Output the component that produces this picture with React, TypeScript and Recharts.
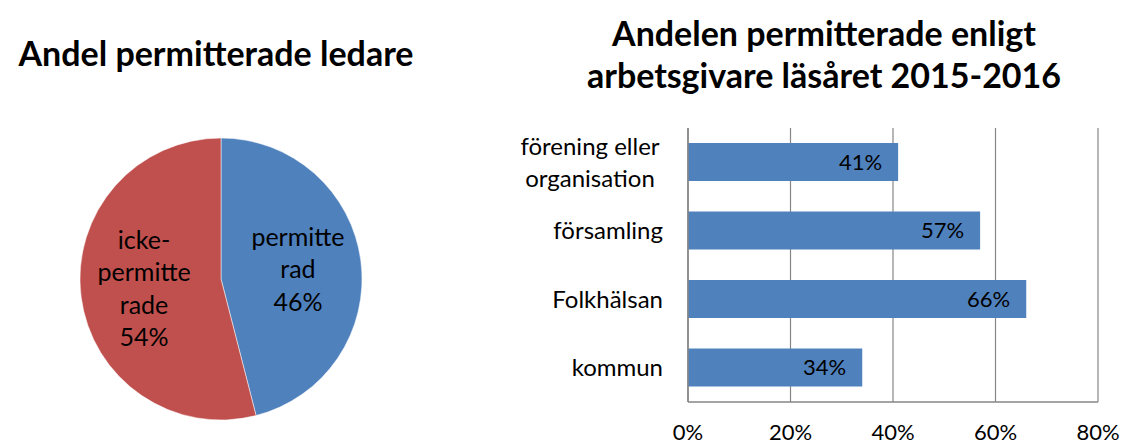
import { PieChart, Pie, Cell, BarChart, Bar, XAxis, YAxis, CartesianGrid, LabelList } from "recharts";

const PIE_NAMES = ["permitterad", "icke-permitterade"];
const PIE_VALUES = [46, 54];
const PIE_LABEL_LINES = [["permitte", "rad"], ["icke-", "permitte", "rade"]];
const PIE_COLORS = ["#4F81BD", "#C0504D"];

const EMPLOYERS = [["förening eller", "organisation"], ["församling"], ["Folkhälsan"], ["kommun"]];
const SHARES = [0.41, 0.57, 0.66, 0.34];
const X_TICKS = [0, 0.2, 0.4, 0.6, 0.8];

const FONT = "Lato, 'Open Sans', sans-serif";
const GRID = "#868686";
const RADIAN = Math.PI / 180;

const pieData = PIE_NAMES.map((name, i) => ({ name, value: PIE_VALUES[i], lines: PIE_LABEL_LINES[i] }));
const barData = EMPLOYERS.map((lines, i) => ({ name: lines.join(" "), lines, share: SHARES[i] }));

function pct(v: number) {
  return `${Math.round(v * 100)}%`;
}

function PieLabel(props: any) {
  const { cx, cy, midAngle, outerRadius, index, value } = props;
  const r = outerRadius * 0.55;
  const x = cx + r * Math.cos(-midAngle * RADIAN);
  const y = cy + r * Math.sin(-midAngle * RADIAN);
  const lines = [...pieData[index].lines, `${value}%`];
  const lh = 32.5;
  const y0 = y - ((lines.length - 1) * lh) / 2;
  return (
    <text x={x} textAnchor="middle" fontFamily={FONT} fontSize={25} fill="#000">
      {lines.map((l, i) => (
        <tspan key={i} x={x} y={y0 + i * lh} dy="0.35em">
          {l}
        </tspan>
      ))}
    </text>
  );
}

function CategoryTick(props: any) {
  const { x, y, index } = props;
  const lines = barData[index]?.lines ?? [];
  const lh = 32;
  const y0 = y - ((lines.length - 1) * lh) / 2;
  // wrapped labels are centred on each other, single ones sit right-aligned
  const multi = lines.length > 1;
  const tx = multi ? x - 73 : x;
  return (
    <text x={tx} textAnchor={multi ? "middle" : "end"} fontFamily={FONT} fontSize={24} fill="#000">
      {lines.map((l, i) => (
        <tspan key={i} x={tx} y={y0 + i * lh} dy="0.35em">
          {l}
        </tspan>
      ))}
    </text>
  );
}

const titleStyle: React.CSSProperties = {
  position: "absolute",
  fontFamily: FONT,
  fontWeight: 700,
  fontSize: 34,
  color: "#000",
  textAlign: "center",
  lineHeight: "42px",
  whiteSpace: "nowrap",
};

export default function App() {
  return (
    <div style={{ position: "absolute", left: 0, top: 0, width: 1125, height: 445, background: "#fff", overflow: "hidden" }}>
      <div style={{ ...titleStyle, left: 0, width: 432, top: 32 }}>Andel permitterade ledare</div>
      <div style={{ ...titleStyle, left: 524, width: 600, top: 12 }}>
        Andelen permitterade enligt
        <br />
        arbetsgivare läsåret 2015-2016
      </div>

      <div style={{ position: "absolute", left: 0, top: 0 }}>
        <PieChart width={460} height={445}>
          <Pie
            data={pieData}
            dataKey="value"
            nameKey="name"
            cx={216}
            cy={274}
            outerRadius={141}
            startAngle={90}
            endAngle={-270}
            stroke="#ffffff"
            strokeWidth={0.5}
            label={PieLabel}
            labelLine={false}
            isAnimationActive={false}
          >
            {pieData.map((d, i) => (
              <Cell key={d.name} fill={PIE_COLORS[i]} />
            ))}
          </Pie>
        </PieChart>
      </div>

      <div style={{ position: "absolute", left: 0, top: 0 }}>
        <BarChart
          width={1125}
          height={445}
          data={barData}
          layout="vertical"
          margin={{ top: 128, right: 27, bottom: 0, left: 0 }}
          barSize={38}
        >
          <CartesianGrid horizontal={false} vertical={true} stroke={GRID} strokeWidth={1.2} />
          <XAxis
            type="number"
            domain={[0, 0.8]}
            ticks={X_TICKS}
            tickFormatter={pct}
            height={43}
            axisLine={{ stroke: GRID, strokeWidth: 1.5 }}
            tickLine={false}
            tickSize={0}
            tickMargin={22}
            tick={{ fontFamily: FONT, fontSize: 22, fill: "#000" }}
            interval={0}
          />
          <YAxis
            type="category"
            dataKey="name"
            width={688}
            axisLine={{ stroke: GRID, strokeWidth: 1.5 }}
            tickLine={false}
            tickSize={0}
            tickMargin={25}
            tick={CategoryTick}
            interval={0}
          />
          <Bar dataKey="share" fill="#4F81BD" isAnimationActive={false}>
            <LabelList
              dataKey="share"
              position="insideRight"
              offset={16}
              formatter={(v: any) => pct(Number(v))}
              style={{ fontFamily: FONT, fontSize: 22, fill: "#000" }}
            />
          </Bar>
        </BarChart>
      </div>
    </div>
  );
}
